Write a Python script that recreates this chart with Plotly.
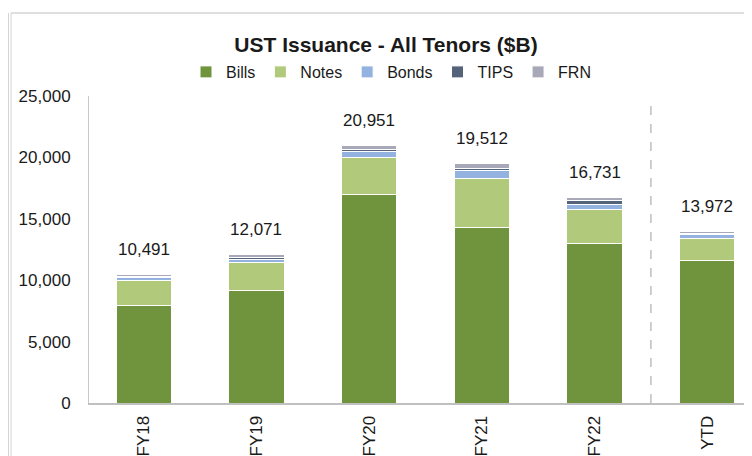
import plotly.graph_objects as go

categories = ["FY18", "FY19", "FY20", "FY21", "FY22", "YTD"]
bills = [7900, 9130, 17000, 14300, 12950, 11570]
notes = [2050, 2330, 3030, 3950, 2770, 1790]
bonds = [240, 260, 450, 700, 450, 330]
tips = [90, 100, 150, 150, 280, 100]
frn = [211, 251, 321, 412, 281, 182]
totals = [10491, 12071, 20951, 19512, 16731, 13972]

series = [
    ("Bills", bills, "#70943e"),
    ("Notes", notes, "#b0c97a"),
    ("Bonds", bonds, "#93b2e0"),
    ("TIPS", tips, "#55637a"),
    ("FRN", frn, "#a7a9b8"),
]

FONT = "Liberation Sans, Arial, sans-serif"
OFF = 8  # page body margin offset of the figure inside the window
W, H = 752, 456
# plot area in window pixels: x 89..752, y 96..403
L, T = 89 - OFF, 96 - OFF
R = W - (752 - OFF)
B = H - (403 - OFF)
PW, PH = W - L - R, H - T - B

def px(wx):
    return (wx - OFF - L) / PW

def py(wy):
    return (H - B - (wy - OFF)) / PH

fig = go.Figure()
for name, vals, col in series:
    fig.add_trace(go.Bar(
        x=categories, y=vals, name=name,
        marker=dict(color=col, line=dict(color="white", width=1)),
        hoverinfo="x+y+name",
    ))

for c, t in zip(categories, totals):
    fig.add_annotation(x=c, y=t, text=f"{t:,}", showarrow=False,
                       yanchor="middle", yshift=25,
                       font=dict(family=FONT, size=17, color="#1a1a1a"))

shapes = [
    dict(type="line", xref="x", yref="paper", x0=4.5, x1=4.5, y0=0, y1=py(100),
         line=dict(color="#bfbfbf", width=1.5, dash="dash")),
    dict(type="line", xref="paper", yref="paper", x0=px(11), x1=px(760), y0=py(13), y1=py(13),
         line=dict(color="#d4d4d4", width=1.5)),
    dict(type="line", xref="paper", yref="paper", x0=px(11), x1=px(11), y0=py(13), y1=py(470),
         line=dict(color="#d4d4d4", width=1)),
    dict(type="line", xref="paper", yref="paper", x0=px(8.5), x1=px(8.5), y0=py(13), y1=py(470),
         line=dict(color="#d4d4d4", width=1)),
]

fig.update_layout(
    width=W, height=H,
    margin=dict(l=L, r=R, t=T, b=B, autoexpand=False),
    paper_bgcolor="white", plot_bgcolor="white",
    barmode="stack", bargap=0.51,
    font=dict(family=FONT, size=17, color="#1a1a1a"),
    title=dict(text="<b>UST Issuance - All Tenors ($B)</b>", x=px(386), xref="paper",
               xanchor="center", y=1 - (45 - OFF) / H, yanchor="middle",
               font=dict(family=FONT, size=21, color="#1a1a1a")),
    legend=dict(orientation="h", x=px(391), xanchor="center", y=py(72), yanchor="middle",
                font=dict(family=FONT, size=16, color="#1a1a1a"),
                itemwidth=30, traceorder="normal", bgcolor="rgba(0,0,0,0)"),
    xaxis=dict(type="category", range=[-0.486, 5.397], showgrid=False, automargin=False,
               showline=True, linecolor="#c0c0c0", linewidth=2,
               tickangle=-90, ticks="", ticklabelstandoff=4,
               tickfont=dict(family=FONT, size=17, color="#1a1a1a")),
    yaxis=dict(range=[0, 25000], tickvals=[0, 5000, 10000, 15000, 20000, 25000],
               tickformat=",d", showgrid=False, zeroline=False, automargin=False,
               showline=True, linecolor="#c8c8c8", linewidth=1,
               ticks="", ticklabelstandoff=14,
               tickfont=dict(family=FONT, size=17, color="#1a1a1a")),
    shapes=shapes,
)

fig.write_html("out.html")
